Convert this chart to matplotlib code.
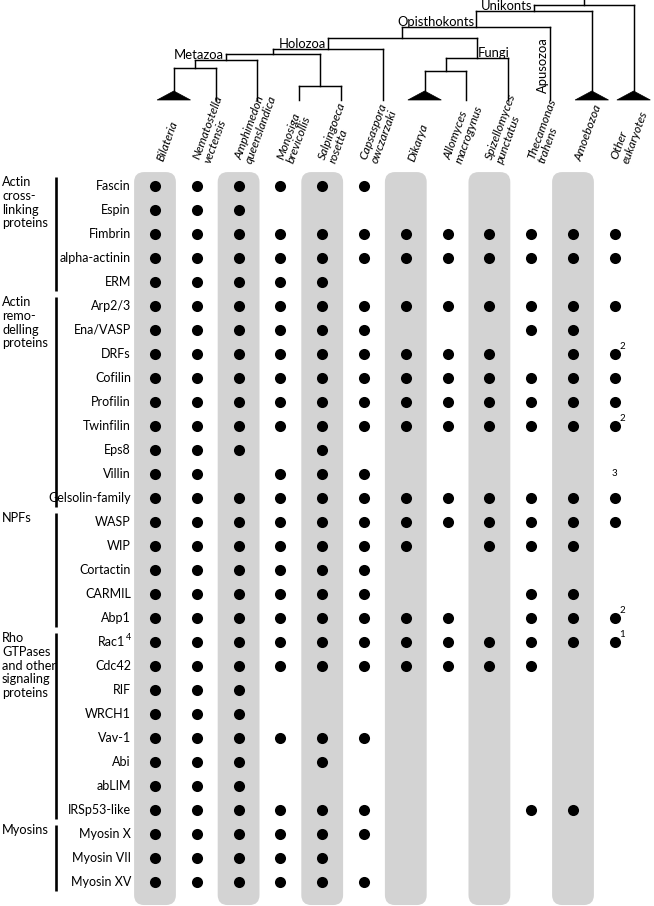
import matplotlib
matplotlib.use("Agg")
import matplotlib.pyplot as plt
from matplotlib.patches import FancyBboxPatch, Polygon
import numpy as np

plt.rcParams['font.family'] = ['Lato', 'DejaVu Sans']

# ---------------- data ----------------
columns = ["Bilateria", "Nematostella\nvectensis", "Amphimedon\nqueenslandica",
           "Monosiga\nbrevicollis", "Salpingoeca\nrosetta", "Capsaspora\nowczarzaki",
           "Dikarya", "Allomyces\nmacrogynus", "Spizellomyces\npunctatus",
           "Thecamonas\ntrahens", "Amoebozoa", "Other\neukaryotes"]

proteins = ["Fascin", "Espin", "Fimbrin", "alpha-actinin", "ERM",
            "Arp2/3", "Ena/VASP", "DRFs", "Cofilin", "Profilin", "Twinfilin",
            "Eps8", "Villin", "Gelsolin-family",
            "WASP", "WIP", "Cortactin", "CARMIL", "Abp1",
            "Rac1", "Cdc42", "RIF", "WRCH1", "Vav-1", "Abi", "abLIM", "IRSp53-like",
            "Myosin X", "Myosin VII", "Myosin XV"]

#            Bil Nem Amp Mon Sal Cap Dik All Spi The Amo Oth
presence = [[1, 1, 1, 1, 1, 1, 0, 0, 0, 0, 0, 0],  # Fascin
            [1, 1, 1, 0, 0, 0, 0, 0, 0, 0, 0, 0],  # Espin
            [1, 1, 1, 1, 1, 1, 1, 1, 1, 1, 1, 1],  # Fimbrin
            [1, 1, 1, 1, 1, 1, 1, 1, 1, 1, 1, 1],  # alpha-actinin
            [1, 1, 1, 1, 1, 0, 0, 0, 0, 0, 0, 0],  # ERM
            [1, 1, 1, 1, 1, 1, 1, 1, 1, 1, 1, 1],  # Arp2/3
            [1, 1, 1, 1, 1, 1, 0, 0, 0, 1, 1, 0],  # Ena/VASP
            [1, 1, 1, 1, 1, 1, 1, 1, 1, 0, 1, 1],  # DRFs
            [1, 1, 1, 1, 1, 1, 1, 1, 1, 1, 1, 1],  # Cofilin
            [1, 1, 1, 1, 1, 1, 1, 1, 1, 1, 1, 1],  # Profilin
            [1, 1, 1, 1, 1, 1, 1, 1, 1, 1, 1, 1],  # Twinfilin
            [1, 1, 1, 0, 1, 0, 0, 0, 0, 0, 0, 0],  # Eps8
            [1, 1, 0, 1, 1, 1, 0, 0, 0, 0, 0, 0],  # Villin
            [1, 1, 1, 1, 1, 1, 1, 1, 1, 1, 1, 1],  # Gelsolin-family
            [1, 1, 1, 1, 1, 1, 1, 1, 1, 1, 1, 1],  # WASP
            [1, 1, 1, 1, 1, 1, 1, 0, 1, 1, 1, 0],  # WIP
            [1, 1, 1, 1, 1, 1, 0, 0, 0, 0, 0, 0],  # Cortactin
            [1, 1, 1, 1, 1, 1, 0, 0, 0, 1, 1, 0],  # CARMIL
            [1, 1, 1, 1, 1, 1, 1, 1, 0, 1, 1, 1],  # Abp1
            [1, 1, 1, 1, 1, 1, 1, 1, 1, 1, 1, 1],  # Rac1
            [1, 1, 1, 1, 1, 1, 1, 1, 1, 1, 0, 0],  # Cdc42
            [1, 1, 1, 0, 0, 0, 0, 0, 0, 0, 0, 0],  # RIF
            [1, 1, 1, 0, 0, 0, 0, 0, 0, 0, 0, 0],  # WRCH1
            [1, 1, 1, 1, 1, 1, 0, 0, 0, 0, 0, 0],  # Vav-1
            [1, 1, 1, 0, 1, 0, 0, 0, 0, 0, 0, 0],  # Abi
            [1, 1, 1, 0, 0, 0, 0, 0, 0, 0, 0, 0],  # abLIM
            [1, 1, 1, 1, 1, 1, 0, 0, 0, 1, 1, 0],  # IRSp53-like
            [1, 1, 1, 1, 1, 1, 0, 0, 0, 0, 0, 0],  # Myosin X
            [1, 1, 1, 1, 1, 0, 0, 0, 0, 0, 0, 0],  # Myosin VII
            [1, 1, 1, 1, 1, 1, 0, 0, 0, 0, 0, 0]]  # Myosin XV

# footnote marks: (protein, column, mark, attached_to_dot)
footnotes = [("DRFs", "Other\neukaryotes", "2", True),
             ("Twinfilin", "Other\neukaryotes", "2", True),
             ("Villin", "Other\neukaryotes", "3", False),
             ("Abp1", "Other\neukaryotes", "2", True),
             ("Rac1", "Other\neukaryotes", "1", True)]
label_marks = {"Rac1": "4"}

groups = [("Actin\ncross-\nlinking\nproteins", "Fascin", "ERM"),
          ("Actin\nremo-\ndelling\nproteins", "Arp2/3", "Gelsolin-family"),
          ("NPFs", "WASP", "Abp1"),
          ("Rho\nGTPases\nand other\nsignaling\nproteins", "Rac1", "IRSp53-like"),
          ("Myosins", "Myosin X", "Myosin XV")]

shaded_columns = ["Bilateria", "Amphimedon\nqueenslandica", "Salpingoeca\nrosetta",
                  "Dikarya", "Spizellomyces\npunctatus", "Amoebozoa"]

# phylogeny: (children, depth) ; leaves are column names
bil_nem = (["Bilateria", "Nematostella\nvectensis"], 68)
metazoa = ([bil_nem, "Amphimedon\nqueenslandica"], 60)
choano = (["Monosiga\nbrevicollis", "Salpingoeca\nrosetta"], 86)
meta_choano = ([metazoa, choano], 54)
holozoa = ([meta_choano, "Capsaspora\nowczarzaki"], 49)
dik_allo = (["Dikarya", "Allomyces\nmacrogynus"], 71)
fungi = ([dik_allo, "Spizellomyces\npunctatus"], 58)
holo_fungi = ([holozoa, fungi], 38)
opisth = ([holo_fungi, "Thecamonas\ntrahens"], 27)
unikonts = ([opisth, "Amoebozoa"], 11)
root = ([unikonts, "Other\neukaryotes"], 5)
clade_labels = [(metazoa, "Metazoa", "left"), (holozoa, "Holozoa", "left"),
                (opisth, "Opisthokonts", "left"), (unikonts, "Unikonts", "left"),
                (fungi, "Fungi", "right")]
collapsed = ["Bilateria", "Dikarya", "Amoebozoa", "Other\neukaryotes"]
leaf_clade_labels = {"Thecamonas\ntrahens": "Apusozoa"}

# ---------------- layout ----------------
W, H = 654, 906
x0, dx = 155, 41.8
y0, dy = 186, 24.0
fig = plt.figure(figsize=(W / 100, H / 100), dpi=100)
ax = fig.add_axes([0, 0, 1, 1])
ax.set_xlim(-x0 / dx, (W - x0) / dx)
ax.set_ylim((H - y0) / dy, -y0 / dy)
ax.axis("off")

tax = fig.add_axes([0, 0, 1, 1], sharex=ax)
tax.set_ylim(H, 0)
tax.axis("off")
tax.patch.set_alpha(0)

cidx = {c: i for i, c in enumerate(columns)}
ridx = {p: i for i, p in enumerate(proteins)}

# shaded bands
band_col = "#d3d3d3"
band_top = -0.58
band_bot = (H - y0) / dy - 0.04
for c in shaded_columns:
    i = cidx[c]
    ax.add_patch(FancyBboxPatch((i - 0.5, band_top), 1.0, band_bot - band_top,
                                boxstyle="round,pad=0,rounding_size=0.24",
                                mutation_aspect=dx / dy, fc=band_col, ec="none",
                                zorder=0))

# dots
pm = np.array(presence)
rr, cc = np.nonzero(pm)
ax.scatter(cc, rr, s=64, color="black", zorder=3, linewidths=0)

# footnotes
for p, c, m, on_dot in footnotes:
    if on_dot:
        ax.annotate(m, (cidx[c], ridx[p]), xytext=(3.2, 2.0), textcoords="offset points",
                    fontsize=7, ha="left", va="bottom", zorder=4)
    else:
        ax.text(cidx[c], ridx[p], m, fontsize=7, ha="center", va="center", zorder=4)

# row labels
lab_x = -0.575
fs_lab = 9.0
for p in proteins:
    r = ridx[p]
    if p in label_marks:
        ax.annotate(p, (lab_x, r), xytext=(-4.5, 0), textcoords="offset points",
                    ha="right", va="center", fontsize=fs_lab)
        ax.annotate(label_marks[p], (lab_x, r), xytext=(0, 3.2), textcoords="offset points",
                    ha="right", va="center", fontsize=6.5)
    else:
        ax.text(lab_x, r, p, ha="right", va="center", fontsize=fs_lab)

# groups
bar_x = -2.37
for g, a, b in groups:
    ra, rb = ridx[a], ridx[b]
    ax.plot([bar_x, bar_x], [ra - 0.38, rb + 0.38], color="black", lw=1.9,
            solid_capstyle="butt")
    ax.text(-3.66, ra - 0.42, g, ha="left", va="top", fontsize=9.2, linespacing=1.18)

# column labels
tip_off = 0.45
for c in columns:
    i = cidx[c]
    tax.text(i + 0.12, 161, c, rotation=70, rotation_mode="anchor", ha="left",
             va="center", fontsize=8.7, style="italic", multialignment="left",
             linespacing=1.05)

# tree
tip_y = 100
tri_h, tri_w = 9, 0.4
lw_tree = 1.05


def draw(node, parent_y):
    if isinstance(node, str):
        x = cidx[node] + tip_off
        if node in collapsed:
            tax.plot([x, x], [parent_y, tip_y - tri_h], color="black", lw=lw_tree)
            tax.add_patch(Polygon([[x - tri_w, tip_y], [x + tri_w, tip_y], [x, tip_y - tri_h]],
                                  closed=True, fc="black", ec="black", lw=0.5))
        else:
            tax.plot([x, x], [parent_y, tip_y], color="black", lw=lw_tree)
        return x
    children, y = node
    xs = [draw(ch, y) for ch in children]
    tax.plot([min(xs), max(xs)], [y, y], color="black", lw=lw_tree, solid_capstyle="projecting")
    xm = (min(xs) + max(xs)) / 2
    tax.plot([xm, xm], [y, parent_y], color="black", lw=lw_tree)
    node_x[id(node)] = xm
    return xm


node_x = {}
draw(root, 0)

for node, name, side in clade_labels:
    xm = node_x[id(node)]
    if side == "left":
        tax.annotate(name, (xm, node[1]), xytext=(-1.5, 1.0), textcoords="offset points",
                     ha="right", va="baseline", fontsize=9.4)
    else:
        tax.annotate(name, (xm, node[1]), xytext=(0.5, 1.0), textcoords="offset points",
                     ha="left", va="baseline", fontsize=9.4)

for leaf, name in leaf_clade_labels.items():
    x = cidx[leaf] + tip_off
    tax.annotate(name, (x, 65), xytext=(-1.0, 0), textcoords="offset points",
                 rotation=90, ha="right", va="center", fontsize=9.4)

fig.savefig("out.png", dpi=100)
